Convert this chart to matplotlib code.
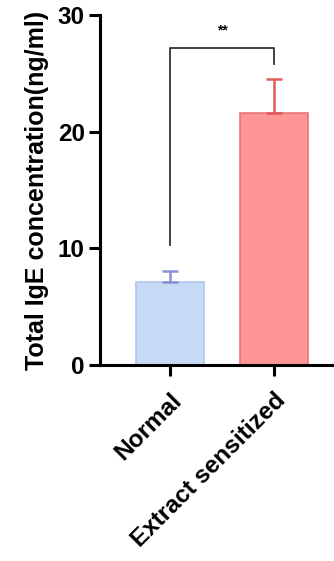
import matplotlib.pyplot as plt

# datos del grafico
grupos = ["Normal", "Extract sensitized"]
medias = [7.1, 21.6]
errores = [1.0, 2.9]
colores = ["#C6DAF6", "#FF9696"]
bordes = ["#AFC6EC", "#E87474"]
colores_error = ["#8C8FD6", "#E05A5A"]

plt.rcParams['font.family'] = ['Liberation Sans', 'DejaVu Sans']

fig = plt.figure(figsize=(3.34, 5.61), dpi=100)
ax = fig.add_axes([100/334, 1 - 365/561, 240/334, 350/561])

x = range(len(grupos))
for i in x:
    ax.bar(i, medias[i], width=0.66, color=colores[i], edgecolor=bordes[i], linewidth=1.2, zorder=2)
    ax.errorbar(i, medias[i], yerr=[[0], [errores[i]]], color=colores_error[i],
                capsize=6, elinewidth=1.8, capthick=1.8, zorder=3)

# corchete de significancia
ax.plot([0, 0, 1, 1], [10.3, 27.2, 27.2, 25.8], color="#333333", linewidth=1.3, clip_on=False)
ax.text(0.5, 28.1, "**", ha="center", va="bottom", fontsize=10, fontweight="bold")

ax.set_xlim(-0.68, 1.64)
ax.set_ylim(0, 30)
ax.set_yticks([0, 10, 20, 30])
ax.set_xticks(list(x))
ax.set_xticklabels(grupos, rotation=45, ha="right", rotation_mode="anchor",
                   fontsize=17.6, fontweight="bold")
for t in ax.get_yticklabels():
    t.set_fontsize(17.5)
    t.set_fontweight("bold")
ax.set_ylabel("Total IgE concentration(ng/ml)", fontsize=18, fontweight="bold", labelpad=6)

for s in ["top", "right"]:
    ax.spines[s].set_visible(False)
for s in ["left", "bottom"]:
    ax.spines[s].set_linewidth(2.2)
ax.tick_params(width=2.2, length=8, pad=3)
ax.tick_params(axis="x", pad=9)

fig.savefig("out.png", dpi=100)
